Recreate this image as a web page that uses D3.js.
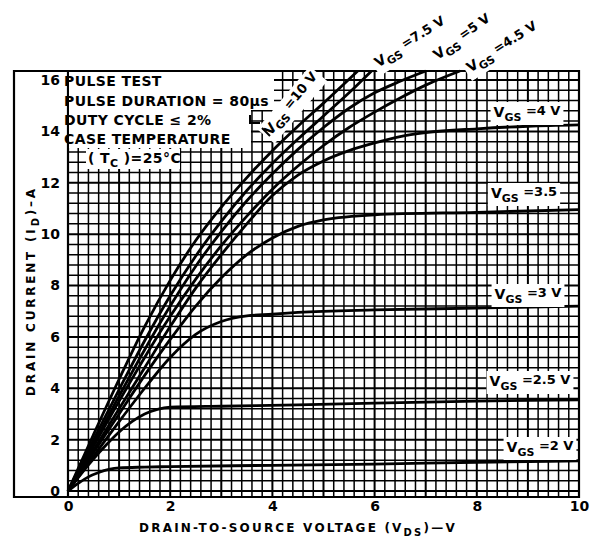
<!DOCTYPE html>
<html><head><meta charset="utf-8">
<script src="https://cdn.jsdelivr.net/npm/d3@7"></script>
<style>
body{margin:0;background:#fff}
svg{display:block}
text{font-family:"DejaVu Sans","Liberation Sans",sans-serif;fill:#000;font-weight:bold}
</style>
</head><body>
<svg id="c" width="594" height="539"></svg>
<script>
// ---------- data ----------
const xTicks = [0, 2, 4, 6, 8, 10];
const yTicks = [0, 2, 4, 6, 8, 10, 12, 14, 16];
const vgs2  = [[0,0],[0.2,0.3],[0.4,0.55],[0.6,0.72],[0.8,0.84],[1.0,0.9],[1.5,0.93],[2,0.95],[4,1.0],[6,1.05],[8,1.12],[10,1.17]];
const vgs25 = [[0,0],[0.25,0.65],[0.5,1.25],[0.75,1.8],[1.0,2.3],[1.25,2.7],[1.5,3.0],[1.75,3.18],[2.0,3.26],[3,3.3],[4.5,3.35],[6,3.42],[8,3.5],[10,3.55]];
const vgs3  = [[0,0],[0.5,1.35],[1,2.7],[1.5,4.0],[2,5.2],[2.5,6.1],[3,6.6],[3.5,6.82],[4,6.88],[4.5,6.95],[6,7.05],[8,7.12],[10,7.2]];
const vgs35 = [[0,0],[0.5,1.5],[1,3.0],[1.5,4.5],[2,5.9],[2.5,7.2],[3,8.3],[3.5,9.2],[4,9.85],[4.5,10.3],[5,10.55],[6,10.75],[8,10.85],[10,10.95]];
const vgs4  = [[0,0],[0.5,1.6],[1,3.2],[1.5,4.8],[2,6.4],[2.5,7.9],[3,9.2],[3.5,10.4],[4,11.5],[4.5,12.3],[5,12.85],[5.5,13.25],[6,13.55],[6.5,13.8],[7,13.95],[8,14.1],[9,14.2],[10,14.25]];
const vgs45 = [[0,0],[0.5,1.75],[1,3.5],[1.5,5.2],[2,6.8],[2.5,8.25],[3,9.55],[3.5,10.7],[4,11.75],[4.5,12.65],[5,13.45],[5.5,14.15],[6,14.75],[6.5,15.3],[7,15.8],[7.67,16.35]];
const vgs5  = [[0,0],[0.5,1.85],[1,3.7],[1.5,5.5],[2,7.2],[2.5,8.75],[3,10.1],[3.5,11.3],[4,12.35],[4.5,13.3],[5,14.15],[5.5,14.9],[6,15.5],[6.5,15.95],[7,16.35]];
const vgs75 = [[0,0],[0.5,2.0],[1,3.95],[1.5,5.85],[2,7.6],[2.5,9.15],[3,10.5],[3.5,11.7],[4,12.75],[4.5,13.7],[5,14.6],[5.5,15.5],[5.94,16.35]];
const vgs10 = [[0,0],[0.5,2.2],[1,4.35],[1.5,6.4],[2,8.2],[2.5,9.75],[3,11.05],[3.5,12.2],[4,13.25],[4.5,14.2],[5,15.1],[5.67,16.35]];
const seriesNames = ["10 V", "7.5 V", "5 V", "4.5 V", "4 V", "3.5", "3 V", "2.5 V", "2 V"];
const notes = ["PULSE TEST", "PULSE DURATION = 80\u00b5s", "DUTY CYCLE \u2264 2%", "CASE TEMPERATURE"];
const xTitle = ["DRAIN-TO-SOURCE VOLTAGE (V", "DS", ")\u2014V"];
const yTitle = ["DRAIN CURRENT (I", "D", ")\u2013A"];

// ---------- layout ----------
const series = [vgs10, vgs75, vgs5, vgs45, vgs4, vgs35, vgs3, vgs25, vgs2];
const svg = d3.select("#c");
const x = d3.scaleLinear().domain([0, 10]).range([68, 579]);
const y = d3.scaleLinear().domain([0, 16]).range([491, 80]);
const pTop = 71, pBottom = 497, pLeft = 68, pRight = 579, outerLeft = 14;

// grid
const g = svg.append("g");
d3.range(0, 10.001, 0.2).forEach(v => {
  const major = Math.abs(v - Math.round(v)) < 1e-6;
  g.append("line").attr("x1", x(v)).attr("x2", x(v)).attr("y1", pTop).attr("y2", pBottom)
   .attr("stroke", "#000").attr("stroke-width", major ? 2 : 1.5);
});
d3.range(0, 16.3, 0.4).forEach(v => {
  const major = Math.abs(v / 2 - Math.round(v / 2)) < 1e-6;
  g.append("line").attr("x1", pLeft).attr("x2", pRight).attr("y1", y(v)).attr("y2", y(v))
   .attr("stroke", "#000").attr("stroke-width", major ? 2 : 1.5);
});

// frames
svg.append("path")
  .attr("d", `M${outerLeft},${pBottom}V${pTop}H${pRight}V${pBottom}Z`)
  .attr("fill", "none").attr("stroke", "#000").attr("stroke-width", 2.2);
svg.append("line").attr("x1", pLeft).attr("x2", pLeft).attr("y1", pTop).attr("y2", pBottom)
  .attr("stroke", "#000").attr("stroke-width", 2.2);

// note box
const noteG = svg.append("g");
const noteBase = [86, 106, 125, 144];
noteG.append("rect").attr("x", pLeft + 1).attr("y", pTop + 1).attr("width", 205).attr("height", 38).attr("fill", "#fff");
noteG.append("rect").attr("x", pLeft + 1).attr("y", pTop + 39).attr("width", 182).attr("height", 38).attr("fill", "#fff");
noteG.append("rect").attr("x", 86).attr("y", 149).attr("width", 94).attr("height", 20).attr("fill", "#fff");
notes.forEach((t, i) => {
  noteG.append("text").attr("x", 64).attr("y", noteBase[i]).attr("font-size", 14)
    .attr("letter-spacing", 0.4).text(t);
});
const tc = noteG.append("text").attr("x", 88).attr("y", 163).attr("font-size", 14).attr("letter-spacing", 0.4);
tc.append("tspan").text("( T");
tc.append("tspan").attr("font-size", 11).attr("dy", 4).text("C");
tc.append("tspan").attr("dy", -4).text(" )=25\u00b0C");

// curves
const line = d3.line().x(d => x(d[0])).y(d => y(d[1])).curve(d3.curveMonotoneX);
svg.append("g").selectAll("path").data(series).join("path")
  .attr("d", line).attr("fill", "none").attr("stroke", "#000").attr("stroke-width", 2.8);

// series labels
const labelLayout = [
  {x: 291, y: 104, r: -50},
  {x: 410, y: 42, r: -32},
  {x: 462, y: 37, r: -35},
  {x: 502, y: 47, r: -32},
  {x: 527, y: 112, r: 0},
  {x: 524, y: 193, r: 0},
  {x: 528, y: 294, r: 0},
  {x: 530, y: 381, r: 0},
  {x: 540, y: 447, r: 0}
];
seriesNames.forEach((n, i) => {
  const L = labelLayout[i];
  const lg = svg.append("g").attr("transform", `translate(${L.x},${L.y}) rotate(${L.r})`);
  const rect = lg.append("rect").attr("fill", "#fff");
  const t = lg.append("text").attr("text-anchor", "middle").attr("font-size", 14).attr("y", 5);
  t.append("tspan").text("V");
  t.append("tspan").attr("font-size", 11).attr("dy", 4).text("GS");
  t.append("tspan").attr("dy", -6).attr("font-size", 13).text(" =" + n);
  const bb = t.node().getBBox();
  rect.attr("x", bb.x - 3).attr("y", bb.y - 1).attr("width", bb.width + 6).attr("height", bb.height + 2);
});

// leader for 10 V
svg.append("path").attr("d", "M250,115 v8 h10 M262,128 l8,8")
  .attr("fill", "none").attr("stroke", "#000").attr("stroke-width", 2);

// axes
const ax = svg.append("g").attr("transform", `translate(0,${pBottom})`)
  .call(d3.axisBottom(x).tickValues(xTicks).tickSize(0).tickPadding(4).tickFormat(d3.format("d")));
const ay = svg.append("g").attr("transform", `translate(60,0)`)
  .call(d3.axisLeft(y).tickValues(yTicks).tickSize(0).tickPadding(0).tickFormat(d3.format("d")));
[ax, ay].forEach(a => {
  a.select(".domain").remove();
  a.selectAll("text").attr("font-size", 14).attr("font-family", "DejaVu Sans").attr("font-weight", "bold").attr("fill", "#000");
});

// titles
const xt = svg.append("text").attr("x", 298).attr("y", 532).attr("text-anchor", "middle")
  .attr("font-size", 12).attr("letter-spacing", 2.2);
xt.append("tspan").text(xTitle[0]);
xt.append("tspan").attr("font-size", 10).attr("dy", 4).text(xTitle[1]);
xt.append("tspan").attr("dy", -4).text(xTitle[2]);

const yt = svg.append("text").attr("transform", "translate(35,291) rotate(-90)").attr("text-anchor", "middle")
  .attr("font-size", 12).attr("letter-spacing", 2.8);
yt.append("tspan").text(yTitle[0]);
yt.append("tspan").attr("font-size", 10).attr("dy", 4).text(yTitle[1]);
yt.append("tspan").attr("dy", -4).text(yTitle[2]);
</script>
</body></html>
